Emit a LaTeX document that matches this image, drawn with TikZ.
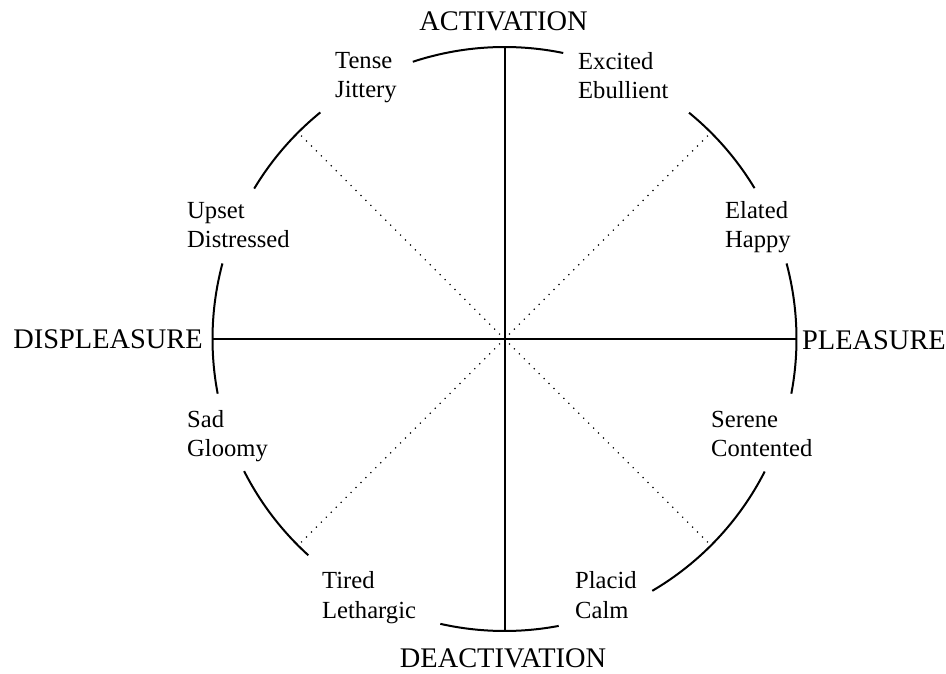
\documentclass[tikz,border=0pt]{standalone}
\usepackage{fontspec}
\setmainfont{Liberation Serif}
\usetikzlibrary{calc}
\begin{document}
\begin{tikzpicture}[x=1pt,y=1pt,
  rim/.style={line width=2pt},
  axisline/.style={line width=2pt},
  diag/.style={line width=1.7pt, line cap=round, dash pattern=on 0pt off 7pt},
  axislabel/.style={inner sep=0pt, font=\fontsize{28.4}{34}\selectfont},
  mood/.style={inner sep=0pt, align=left, anchor=base west, font=\fontsize{24.6}{29.5}\selectfont}]
\useasboundingbox (0,0) rectangle (946,673);
\def\R{292}
\coordinate (O) at (504.5,334);
\coordinate (N) at ($(O)+(90:\R)$);
\coordinate (S) at ($(O)+(270:\R)$);
\coordinate (E) at ($(O)+(0:\R)$);
\coordinate (W) at ($(O)+(180:\R)$);
\coordinate (NE) at ($(O)+(45:288)$);
\coordinate (NW) at ($(O)+(135:288)$);
\coordinate (SW) at ($(O)+(225:288)$);
\coordinate (SE) at ($(O)+(315:288)$);
% rim arcs
\draw[rim] ($(O)+(78.4:\R)$) arc[start angle=78.4, end angle=108.3, radius=\R];
\draw[rim] ($(O)+(129.1:\R)$) arc[start angle=129.1, end angle=149, radius=\R];
\draw[rim] ($(O)+(165:\R)$) arc[start angle=165, end angle=190.8, radius=\R];
\draw[rim] ($(O)+(206.9:\R)$) arc[start angle=206.9, end angle=227.8, radius=\R];
\draw[rim] ($(O)+(257.3:\R)$) arc[start angle=257.3, end angle=280.7, radius=\R];
\draw[rim] ($(O)+(300.4:\R)$) arc[start angle=300.4, end angle=333, radius=\R];
\draw[rim] ($(O)+(-10.8:\R)$) arc[start angle=-10.8, end angle=15, radius=\R];
\draw[rim] ($(O)+(31.1:\R)$) arc[start angle=31.1, end angle=50.8, radius=\R];
% axes
\draw[axisline] (W) -- (E);
\draw[axisline] (N) -- (S);
% diagonals
\draw[diag] (O) -- (NE);
\draw[diag] (O) -- (NW);
\draw[diag] (O) -- (SW);
\draw[diag] (O) -- (SE);
% axis labels
\node[axislabel, anchor=base] (act) at (503.5,642) {ACTIVATION};
\node[axislabel, anchor=base] (deact) at (503,6) {DEACTIVATION};
\node[axislabel, anchor=base east] (displ) at (203,324) {DISPLEASURE};
\node[axislabel, anchor=base west] (pleas) at (802,323.5) {PLEASURE};
% mood labels (anchored at the baseline of the second line)
\node[mood] (tense) at (335,575) {Tense\\Jittery};
\node[mood] (excited) at (578,574) {Excited\\Ebullient};
\node[mood] (upset) at (187,425) {Upset\\Distressed};
\node[mood] (elated) at (725,425) {Elated\\Happy};
\node[mood] (sad) at (187,216) {Sad\\Gloomy};
\node[mood] (serene) at (711,216) {Serene\\Contented};
\node[mood] (tired) at (322,55) {Tired\\Lethargic};
\node[mood] (placid) at (575,55) {Placid\\Calm};
\end{tikzpicture}
\end{document}
